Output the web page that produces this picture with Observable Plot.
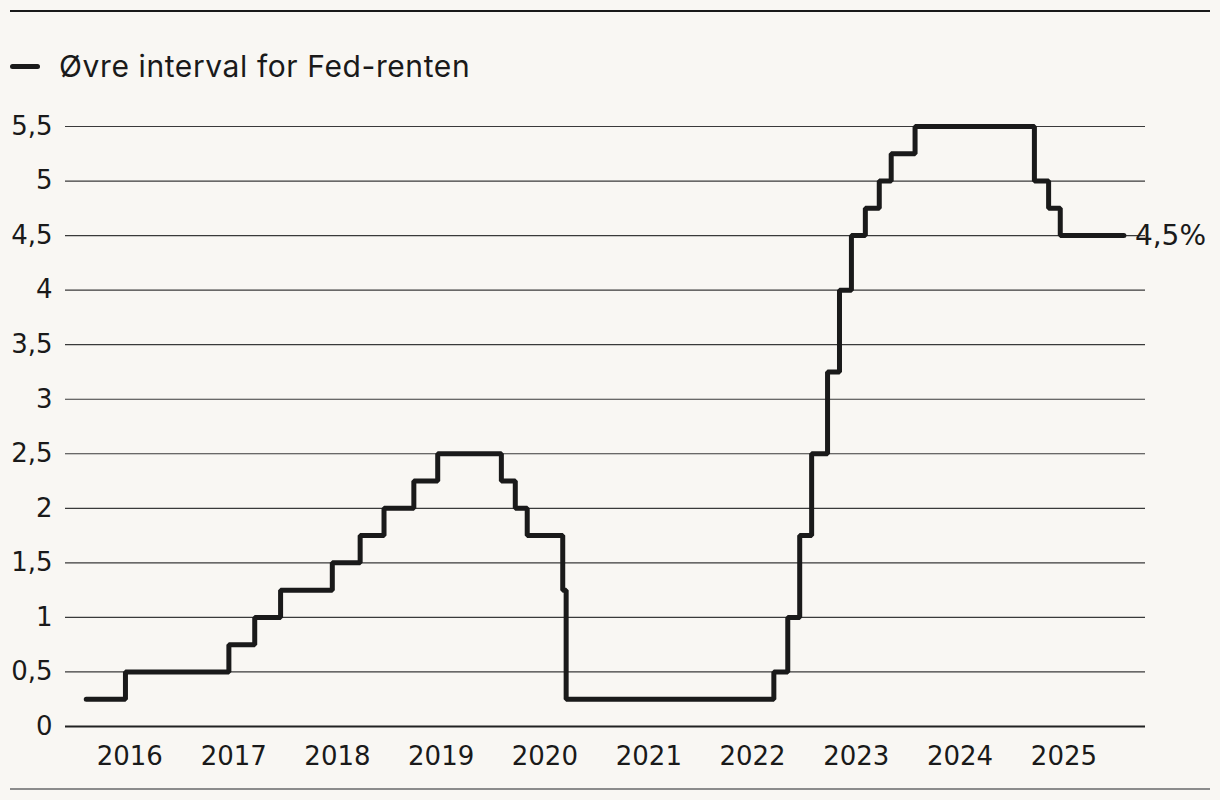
<!DOCTYPE html>
<html>
<head>
<meta charset="utf-8">
<script src="https://cdn.jsdelivr.net/npm/d3@7"></script>
<script src="https://cdn.jsdelivr.net/npm/@observablehq/plot@0.6"></script>
<style>
  html, body { margin: 0; padding: 0; background: #f9f7f3; }
  body { width: 1220px; height: 800px; position: relative; overflow: hidden; color: #1a1a1a; }
  .rule-top { position: absolute; left: 10px; width: 1200px; top: 10px; height: 2px; background: #1a1a1a; }
  .rule-bottom { position: absolute; left: 10px; width: 1200px; top: 788px; height: 2px; background: #8c8c8c; }
  .legend { position: absolute; left: 10px; top: 46px; height: 40px; display: flex; align-items: center; font-family: Inter, "Liberation Sans", sans-serif; font-size: 30px; letter-spacing: 0.6px; color: #1a1a1a; }
  .legend .swatch { width: 30px; height: 5px; border-radius: 3px; background: #1a1a1a; margin-right: 19px; }
  #chart { position: absolute; left: 0; top: 90px; }
</style>
</head>
<body>
<div class="rule-top"></div>
<div class="legend"><span class="swatch"></span><span id="legend-label"></span></div>
<div id="chart"></div>
<div class="rule-bottom"></div>
<script>
const seriesName = "Øvre interval for Fed-renten";
const dates = ["2015-08-01","2015-12-17","2016-12-15","2017-03-16","2017-06-15","2017-12-14","2018-03-22","2018-06-14","2018-09-27","2018-12-20","2019-08-01","2019-09-19","2019-10-31","2020-03-04","2020-03-16","2022-03-17","2022-05-05","2022-06-16","2022-07-28","2022-09-22","2022-11-03","2022-12-15","2023-02-02","2023-03-23","2023-05-04","2023-07-27","2024-09-19","2024-11-08","2024-12-19","2025-07-31"];
const rates = [0.25,0.5,0.75,1,1.25,1.5,1.75,2,2.25,2.5,2.25,2,1.75,1.25,0.25,0.5,1,1.75,2.5,3.25,4,4.5,4.75,5,5.25,5.5,5,4.75,4.5,4.5];
const yTicks = [0,0.5,1,1.5,2,2.5,3,3.5,4,4.5,5,5.5];
const xTickYears = [2016,2017,2018,2019,2020,2021,2022,2023,2024,2025];
const endLabel = "4,5%";

document.getElementById("legend-label").textContent = seriesName;

const data = dates.map((d, i) => ({date: new Date(d), rate: rates[i]}));
const last = data[data.length - 1];
const fmtComma = d => String(d).replace(".", ",");

const chart = Plot.plot({
  width: 1220,
  height: 690,
  marginLeft: 65,
  marginRight: 75,
  marginTop: 36,
  marginBottom: 54,
  style: {background: "transparent", fontFamily: "'DejaVu Sans', sans-serif", fontSize: "26px", color: "#1a1a1a", overflow: "visible"},
  x: {type: "utc", domain: [new Date("2015-05-20"), new Date("2025-10-15")]},
  y: {domain: [0, 5.5]},
  marks: [
    Plot.ruleY(yTicks.filter(d => d > 0), {stroke: "#3a3a3a", strokeWidth: 1.2}),
    Plot.ruleY([0], {stroke: "#222", strokeWidth: 2}),
    Plot.axisY({ticks: yTicks, tickSize: 0, tickPadding: 13, tickFormat: fmtComma, label: null, fontSize: 26}),
    Plot.axisX({ticks: xTickYears.map(y => new Date(Date.UTC(y, 0, 1))), tickSize: 0, tickPadding: 20, tickFormat: d3.utcFormat("%Y"), label: null, fontSize: 26}),
    Plot.line(data, {x: "date", y: "rate", curve: "step-after", stroke: "#1a1a1a", strokeWidth: 5, strokeLinejoin: "miter", strokeLinecap: "round"}),
    Plot.text([last], {x: "date", y: "rate", text: () => endLabel, textAnchor: "start", dx: 11, fontSize: 28, fill: "#1a1a1a"})
  ]
});
document.getElementById("chart").appendChild(chart);
</script>
</body>
</html>
